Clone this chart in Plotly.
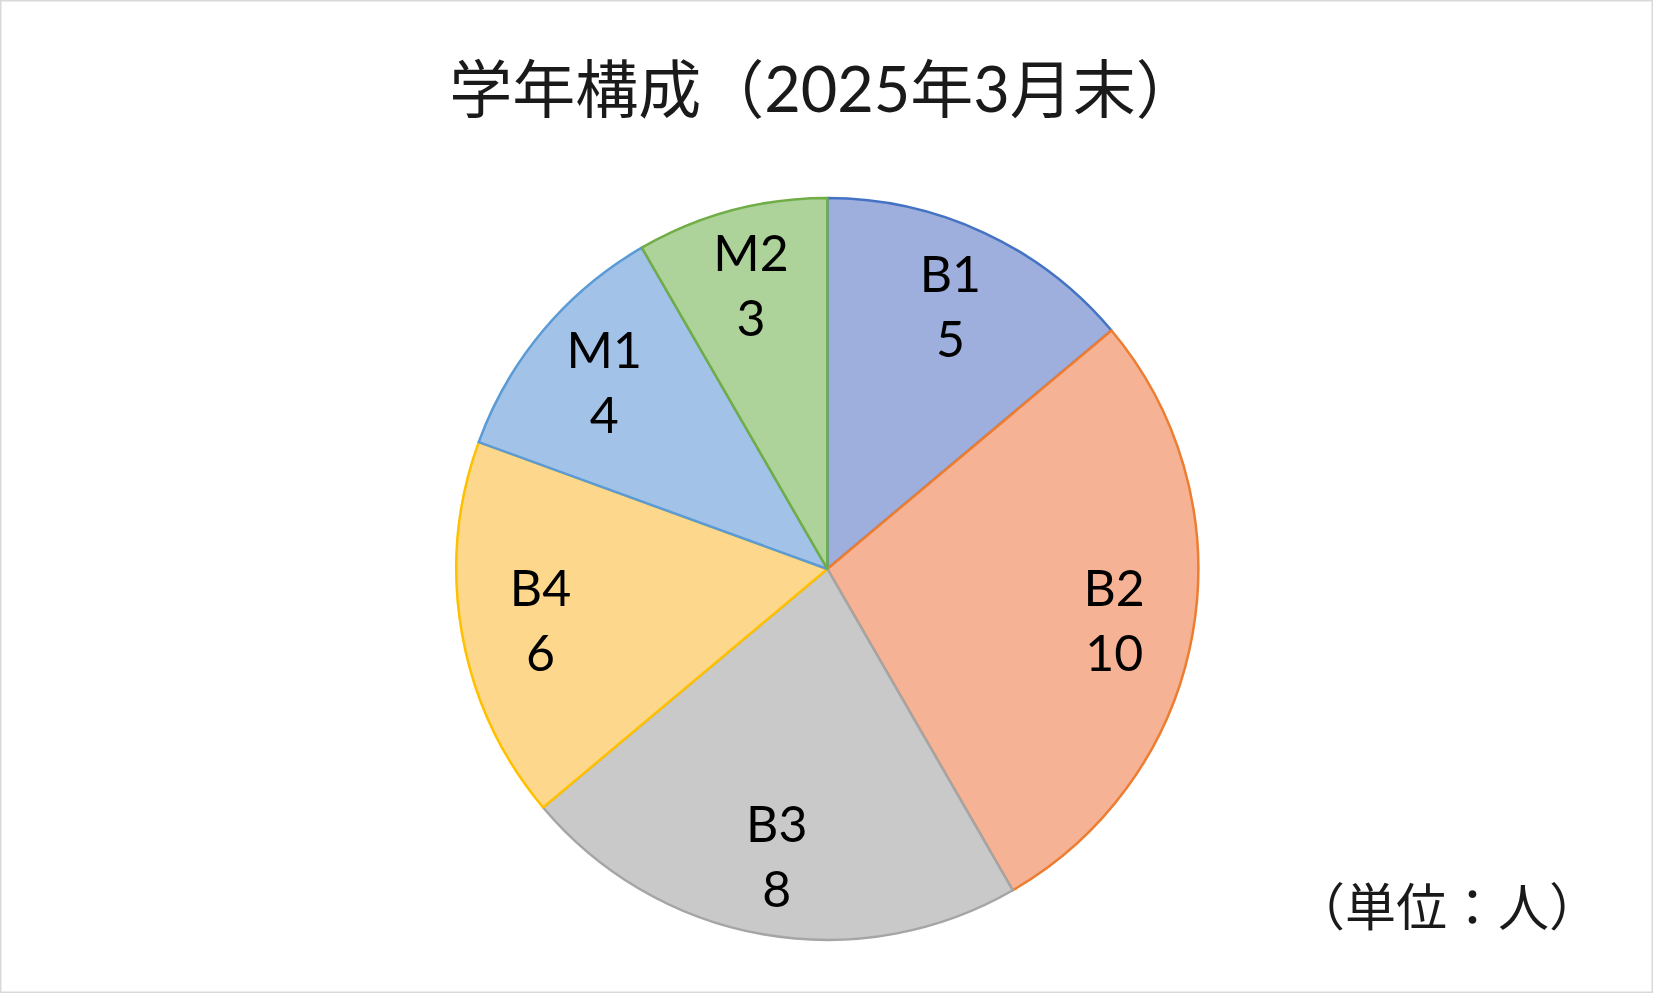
import plotly.graph_objects as go

# 学年構成（2025年3月末）
grades = ["B1", "B2", "B3", "B4", "M1", "M2"]
counts = [5, 10, 8, 6, 4, 3]

fill_colors = ["#9EAFDD", "#F5B294", "#C9C9C9", "#FDD78C", "#A3C2E7", "#ADD39A"]
edge_colors = ["#4472C4", "#ED7D31", "#A5A5A5", "#FFC000", "#5B9BD5", "#70AD47"]

title_text = "学年構成（2025年3月末）"
unit_text = "（単位：人）"

fnt = "Lato, 'Noto Sans CJK JP', sans-serif"
dom = dict(x=[0.276, 0.725], y=[0.0534, 0.8006])

# filled slices, no text
pie = go.Pie(
    labels=grades,
    values=counts,
    sort=False,
    direction="clockwise",
    rotation=0,
    textinfo="none",
    marker=dict(colors=fill_colors, line=dict(color=edge_colors, width=2.5)),
    domain=dom,
    showlegend=False,
    hoverinfo="label+value",
)

# same data as a transparent ring so the labels sit out towards the rim
ring = go.Pie(
    labels=grades,
    values=counts,
    sort=False,
    direction="clockwise",
    rotation=0,
    hole=0.57,
    textinfo="label+value",
    textposition="inside",
    insidetextorientation="horizontal",
    textfont=dict(family=fnt, size=50, color="black"),
    marker=dict(colors=["rgba(0,0,0,0)"] * len(grades), line=dict(width=0)),
    domain=dom,
    showlegend=False,
    hoverinfo="skip",
)

fig = go.Figure([pie, ring])

fig.update_layout(
    width=1653,
    height=993,
    margin=dict(l=0, r=0, t=0, b=0),
    paper_bgcolor="white",
    font=dict(family=fnt, color="#1a1a1a"),
    title=dict(
        text=title_text,
        x=0.4985,
        xanchor="center",
        y=0.909,
        yanchor="middle",
        font=dict(family=fnt, size=63, color="#1a1a1a"),
    ),
    annotations=[
        dict(
            text=unit_text,
            xref="paper", yref="paper",
            x=0.969, y=0.087,
            xanchor="right", yanchor="middle",
            showarrow=False,
            font=dict(family=fnt, size=51, color="#1a1a1a"),
        )
    ],
    shapes=[
        dict(
            type="rect", xref="paper", yref="paper",
            x0=0, y0=0, x1=1, y1=1,
            line=dict(color="#D9D9D9", width=3),
        )
    ],
)

fig.write_html("out.html", config={"displayModeBar": False},
               post_script="document.body.style.margin='0';")
